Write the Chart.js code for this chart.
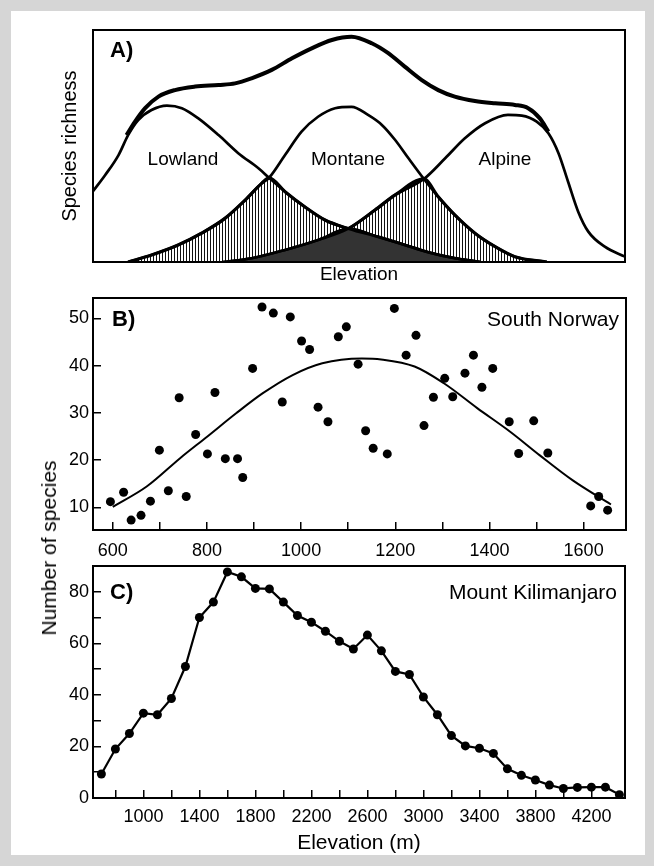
<!DOCTYPE html>
<html>
<head>
<meta charset="utf-8">
<script src="https://cdn.jsdelivr.net/npm/chart.js@4.4.0/dist/chart.umd.min.js"></script>
<style>
  html, body { margin:0; padding:0; width:654px; height:866px; overflow:hidden; background:#d6d6d6; }
  #sheet { position:absolute; left:11px; top:11px; width:634px; height:844px; background:#fff; }
  canvas { position:absolute; left:0; }
  #ylab { position:absolute; left:49px; top:548px; transform:translate(-50%,-50%) rotate(-90deg);
          font-family:"Liberation Sans", Arial, sans-serif; font-size:21px; white-space:nowrap; color:#000; }
</style>
</head>
<body>
<div id="sheet"></div>
<canvas id="chartA" width="654" height="290" style="top:0"></canvas>
<canvas id="chartB" width="654" height="270" style="top:290px"></canvas>
<canvas id="chartC" width="654" height="306" style="top:560px"></canvas>
<div id="ylab">Number of species</div>
<script>
// ---- A) conceptual curves (relative elevation 0-100, relative richness 0-100)
var lowlandX = [0, 2.3, 4.8, 6.6, 8.5, 11.0, 13.9, 16.7, 19.8, 23.6, 27.3, 31.1, 33.1, 36.1, 39.8, 43.6, 48.0, 53.9, 57.7, 63.3, 68.0, 72.7];
var lowlandY = [30.5, 37.5, 46.1, 54.7, 61.2, 65.5, 67.4, 66.3, 61.9, 54.7, 46.9, 40.4, 36.3, 30.3, 23.8, 18.1, 14.4, 10.6, 8.0, 4.0, 1.6, 0];
var montaneX = [6.6, 11.0, 16.0, 20.4, 24.8, 28.6, 31.7, 33.1, 36.1, 39.2, 42.3, 45.5, 48.6, 51.7, 54.3, 56.8, 59.3, 62.2, 64.9, 68.0, 71.8, 75.6, 79.3, 85.3];
var montaneY = [0, 3.0, 7.3, 12.4, 18.8, 26.7, 33.9, 36.3, 46.1, 56.2, 62.6, 66.3, 66.9, 63.4, 59.1, 52.6, 44.7, 35.8, 28.1, 20.3, 12.4, 6.6, 2.3, 0];
var alpineX = [24.4, 29.8, 36.1, 42.3, 48.0, 53.0, 56.8, 62.2, 66.2, 69.9, 73.7, 78.0, 80.6, 83.4, 85.6, 87.5, 89.3, 91.2, 93.1, 96.2, 100];
var alpineY = [0, 1.6, 5.2, 9.5, 14.4, 22.4, 28.9, 35.8, 44.7, 53.3, 59.8, 63.4, 63.1, 60.5, 55.5, 46.9, 34.6, 21.7, 13.1, 6.6, 2.3];
var totalX = [6.3, 7.9, 9.8, 12.3, 15.4, 19.2, 23.6, 26.7, 29.8, 33.6, 37.4, 41.1, 44.9, 48.6, 52.4, 55.5, 58.6, 61.8, 64.9, 68.0, 71.8, 75.6, 79.3, 81.8, 84.0, 85.6];
var totalY = [54.7, 60.5, 66.3, 71.3, 74.1, 75.6, 76.3, 77.0, 79.2, 82.8, 87.8, 92.1, 95.7, 97.1, 94.3, 90.0, 84.2, 78.4, 74.1, 71.3, 69.4, 68.4, 67.7, 66.3, 61.9, 56.2];
// where the curves cross
var crossLM = 33.1, crossMA = 62.2, crossLA = 48.0;

// ---- B) South Norway
var norwayElev = [595, 623, 639, 660, 680, 699, 718, 741, 756, 776, 801, 817, 839, 865, 876, 897, 917, 941, 960, 977,
                  1001, 1018, 1036, 1057, 1079, 1096, 1121, 1137, 1153, 1183, 1198, 1223, 1244, 1261, 1281, 1305, 1322, 1348,
                  1366, 1384, 1407, 1442, 1462, 1494, 1524, 1615, 1632, 1651];
var norwaySpecies = [11.2, 13.2, 7.3, 8.3, 11.3, 22.1, 13.5, 33.2, 12.3, 25.4, 21.3, 34.3, 20.3, 20.3, 16.3, 39.4, 52.4, 51.1, 32.3, 50.3,
                     45.2, 43.4, 31.2, 28.1, 46.1, 48.2, 40.3, 26.2, 22.5, 21.3, 52.1, 42.2, 46.4, 27.3, 33.3, 37.3, 33.4, 38.4,
                     42.2, 35.4, 39.4, 28.1, 21.4, 28.3, 21.5, 10.3, 12.3, 9.4];
var norwayFitElev = [600, 672, 743, 801, 862, 918, 982, 1045, 1129, 1170, 1241, 1304, 1374, 1444, 1507, 1577, 1658];
var norwayFit = [10.1, 14.4, 20.4, 25.0, 29.9, 34.1, 38.0, 40.5, 41.5, 41.3, 39.8, 36.2, 31.0, 26.0, 21.0, 15.7, 10.6];
var norwayTicksX = [600, 700, 800, 900, 1000, 1100, 1200, 1300, 1400, 1500, 1600];
var norwayTicksY = [10, 20, 30, 40, 50];

// ---- C) Mount Kilimanjaro
var kiliElev = [700, 800, 900, 1000, 1100, 1200, 1300, 1400, 1500, 1600, 1700, 1800, 1900, 2000, 2100, 2200, 2300, 2400, 2500,
                2600, 2700, 2800, 2900, 3000, 3100, 3200, 3300, 3400, 3500, 3600, 3700, 3800, 3900, 4000, 4100, 4200, 4300, 4400];
var kiliSpecies = [9.3, 19.0, 25.0, 32.9, 32.3, 38.6, 51.0, 70.0, 76.0, 87.7, 85.8, 81.3, 81.1, 76.0, 70.8, 68.2, 64.7, 60.8, 57.8,
                   63.2, 57.1, 49.1, 47.9, 39.2, 32.3, 24.2, 20.2, 19.3, 17.3, 11.3, 8.8, 7.0, 5.0, 3.7, 4.1, 4.2, 4.2, 1.3];
var kiliTicksX = [800, 1000, 1200, 1400, 1600, 1800, 2000, 2200, 2400, 2600, 2800, 3000, 3200, 3400, 3600, 3800, 4000, 4200];
var kiliTicksY = [0, 10, 20, 30, 40, 50, 60, 70, 80];

var FONT = '"Liberation Sans", Arial, Helvetica, sans-serif';
Chart.defaults.font.family = FONT;
Chart.defaults.color = '#000';

function pts(xs, ys) {
  return xs.map(function (x, i) { return { x: x, y: ys[i] }; });
}
// lower boundary of two overlapping curves: left one up to the crossing, the other after it
function envelope(ax, ay, bx, by, xc) {
  var out = [];
  ax.forEach(function (x, i) { if (x <= xc) out.push({ x: x, y: ay[i] }); });
  bx.forEach(function (x, i) { if (x > xc) out.push({ x: x, y: by[i] }); });
  return out;
}

// fixed axis sizes, and no extra room for edge labels
function fixSize(w, h) {
  return function (s) {
    if (w !== null) s.width = w;
    if (h !== null) s.height = h;
    s.paddingTop = 0; s.paddingBottom = 0; s.paddingLeft = 0; s.paddingRight = 0;
  };
}

// vertical hatching
var hatchCanvas = document.createElement('canvas');
hatchCanvas.width = 3; hatchCanvas.height = 4;
var hctx = hatchCanvas.getContext('2d');
hctx.fillStyle = '#fff'; hctx.fillRect(0, 0, 3, 4);
hctx.fillStyle = '#111'; hctx.fillRect(0, 0, 1, 4);
var hatch = document.getElementById('chartA').getContext('2d').createPattern(hatchCanvas, 'repeat');

// frame + panel texts
var notesPlugin = {
  id: 'notes',
  afterDraw: function (chart, args, opts) {
    var ctx = chart.ctx, a = chart.chartArea;
    ctx.save();
    ctx.strokeStyle = '#000';
    ctx.lineWidth = 2;
    ctx.strokeRect(a.left, a.top, a.right - a.left, a.bottom - a.top);
    (opts.items || []).forEach(function (it) {
      ctx.font = it.font;
      ctx.fillStyle = '#000';
      ctx.textAlign = it.align;
      ctx.textBaseline = 'middle';
      var x = it.align === 'right' ? a.right - it.dx : a.left + it.dx;
      ctx.fillText(it.text, x, a.top + it.dy);
    });
    ctx.restore();
  }
};

function innerGrid() {
  return { display: true, drawOnChartArea: false, drawTicks: true, tickLength: -8, color: '#000', lineWidth: 1.5 };
}

// ---------- A
new Chart(document.getElementById('chartA'), {
  type: 'line',
  data: {
    datasets: [
      { data: pts(totalX, totalY), borderColor: '#000', borderWidth: 4, pointRadius: 0, cubicInterpolationMode: 'monotone', fill: false },
      { data: pts(lowlandX, lowlandY), borderColor: '#000', borderWidth: 2.7, pointRadius: 0, cubicInterpolationMode: 'monotone', fill: false },
      { data: pts(montaneX, montaneY), borderColor: '#000', borderWidth: 2.7, pointRadius: 0, cubicInterpolationMode: 'monotone', fill: false },
      { data: pts(alpineX, alpineY), borderColor: '#000', borderWidth: 2.7, pointRadius: 0, cubicInterpolationMode: 'monotone', fill: false },
      { data: envelope(alpineX, alpineY, lowlandX, lowlandY, crossLA), borderColor: '#000', borderWidth: 2.5, pointRadius: 0,
        cubicInterpolationMode: 'monotone', fill: 'origin', backgroundColor: '#333' },
      { data: envelope(montaneX, montaneY, lowlandX, lowlandY, crossLM), borderColor: '#000', borderWidth: 3.2, pointRadius: 0,
        cubicInterpolationMode: 'monotone', fill: 'origin', backgroundColor: hatch },
      { data: envelope(alpineX, alpineY, montaneX, montaneY, crossMA), borderColor: '#000', borderWidth: 3.2, pointRadius: 0,
        cubicInterpolationMode: 'monotone', fill: 'origin', backgroundColor: hatch }
    ]
  },
  options: {
    responsive: false,
    animation: false,
    layout: { padding: { top: 30, right: 29, left: 0, bottom: 0 } },
    plugins: {
      legend: { display: false },
      tooltip: { enabled: false },
      notes: {
        items: [
          { text: 'A)', font: 'bold 22px ' + FONT, align: 'left', dx: 17, dy: 21 },
          { text: 'Lowland', font: '19px ' + FONT, align: 'center', dx: 90, dy: 130 },
          { text: 'Montane', font: '19px ' + FONT, align: 'center', dx: 255, dy: 130 },
          { text: 'Alpine', font: '19px ' + FONT, align: 'center', dx: 412, dy: 130 }
        ]
      }
    },
    scales: {
      x: {
        type: 'linear', min: 0, max: 100,
        ticks: { display: false }, grid: { display: false }, border: { display: false },
        title: { display: true, text: 'Elevation', font: { size: 19 }, padding: { top: 0, bottom: 4 } },
        afterFit: fixSize(null, 28)
      },
      y: {
        type: 'linear', min: 0, max: 100,
        ticks: { display: false }, grid: { display: false }, border: { display: false },
        title: { display: true, text: 'Species richness', font: { size: 20 }, padding: { top: 58, bottom: 0 } },
        afterFit: fixSize(93, null)
      }
    }
  },
  plugins: [notesPlugin]
});

// ---------- B
new Chart(document.getElementById('chartB'), {
  type: 'scatter',
  data: {
    datasets: [
      { data: pts(norwayElev, norwaySpecies), pointRadius: 4.5, backgroundColor: '#000', borderWidth: 0, showLine: false },
      { data: pts(norwayFitElev, norwayFit), showLine: true, pointRadius: 0, borderColor: '#000', borderWidth: 2,
        cubicInterpolationMode: 'monotone' }
    ]
  },
  options: {
    responsive: false,
    animation: false,
    layout: { padding: { top: 8, right: 28, left: 0, bottom: 0 } },
    plugins: {
      legend: { display: false },
      tooltip: { enabled: false },
      notes: {
        items: [
          { text: 'B)', font: 'bold 22px ' + FONT, align: 'left', dx: 19, dy: 22 },
          { text: 'South Norway', font: '21px ' + FONT, align: 'right', dx: 7, dy: 22 }
        ]
      }
    },
    scales: {
      x: {
        type: 'linear', min: 558, max: 1690,
        afterBuildTicks: function (s) { s.ticks = norwayTicksX.map(function (v) { return { value: v }; }); },
        ticks: { autoSkip: false, maxRotation: 0, padding: 18, font: { size: 18 },
                 callback: function (v) { return v % 200 === 0 ? String(v) : ''; } },
        grid: innerGrid(), border: { display: false },
        afterFit: fixSize(null, 30)
      },
      y: {
        type: 'linear', min: 5.2, max: 54.3,
        afterBuildTicks: function (s) { s.ticks = norwayTicksY.map(function (v) { return { value: v }; }); },
        ticks: { autoSkip: false, padding: 12, font: { size: 18 }, callback: function (v) { return String(v); } },
        grid: innerGrid(), border: { display: false },
        afterFit: fixSize(93, null)
      }
    }
  },
  plugins: [notesPlugin]
});

// ---------- C
new Chart(document.getElementById('chartC'), {
  type: 'line',
  data: {
    datasets: [
      { data: pts(kiliElev, kiliSpecies), borderColor: '#000', borderWidth: 2.2, pointRadius: 4.5,
        pointBackgroundColor: '#000', pointBorderWidth: 0, tension: 0, fill: false }
    ]
  },
  options: {
    responsive: false,
    animation: false,
    layout: { padding: { top: 6, right: 29, left: 0, bottom: 0 } },
    plugins: {
      legend: { display: false },
      tooltip: { enabled: false },
      notes: {
        items: [
          { text: 'C)', font: 'bold 22px ' + FONT, align: 'left', dx: 17, dy: 27 },
          { text: 'Mount Kilimanjaro', font: '21px ' + FONT, align: 'right', dx: 8, dy: 27 }
        ]
      }
    },
    scales: {
      x: {
        type: 'linear', min: 640, max: 4440,
        afterBuildTicks: function (s) { s.ticks = kiliTicksX.map(function (v) { return { value: v }; }); },
        ticks: { autoSkip: false, maxRotation: 0, padding: 16, font: { size: 18 },
                 callback: function (v) { return (v - 1000) % 400 === 0 ? String(v) : ''; } },
        grid: innerGrid(), border: { display: false },
        title: { display: true, text: 'Elevation (m)', font: { size: 21 }, padding: { top: 0, bottom: 10 } },
        afterFit: fixSize(null, 68)
      },
      y: {
        type: 'linear', min: 0, max: 90,
        afterBuildTicks: function (s) { s.ticks = kiliTicksY.map(function (v) { return { value: v }; }); },
        ticks: { autoSkip: false, padding: 12, font: { size: 18 },
                 callback: function (v) { return v % 20 === 0 ? String(v) : ''; } },
        grid: innerGrid(), border: { display: false },
        afterFit: fixSize(93, null)
      }
    }
  },
  plugins: [notesPlugin]
});
</script>
</body>
</html>
